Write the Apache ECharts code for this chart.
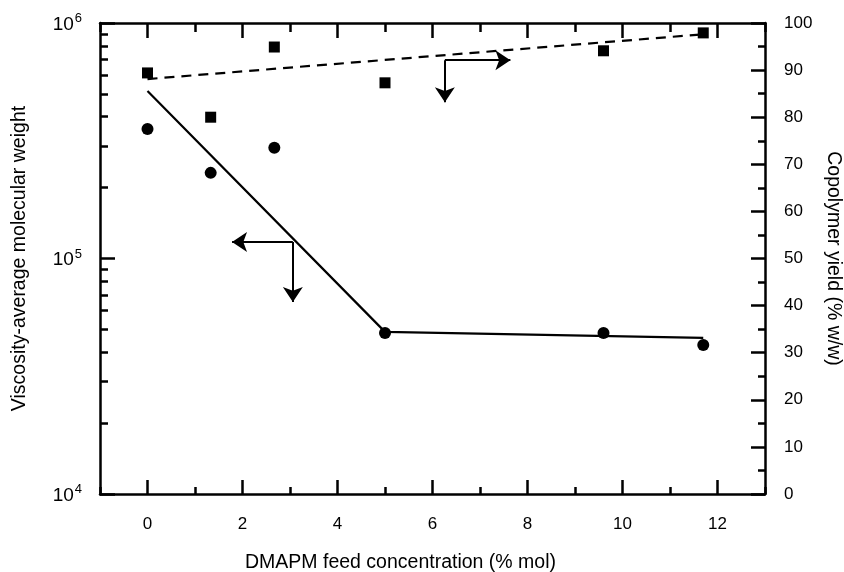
<!DOCTYPE html>
<html>
<head>
<meta charset="utf-8">
<script src="https://cdn.jsdelivr.net/npm/echarts@6/dist/echarts.min.js"></script>
<style>
  html, body { margin: 0; padding: 0; background: #fff; }
  #chart { width: 844px; height: 572px; }
</style>
</head>
<body>
<div id="chart"></div>
<script>
// molecular weight (circles, left log axis)
const mwX = [0, 1.33, 2.67, 5.0, 9.6, 11.7]
const mwY = [355000, 231000, 295000, 48300, 48300, 42900]
// copolymer yield (squares, right axis)
const yieldX = [0, 1.33, 2.67, 5.0, 9.6, 11.7]
const yieldY = [89.4, 80.0, 94.9, 87.3, 94.1, 97.9]
// fitted lines
const mwFit = [[0, 514000], [5.0, 48800], [11.7, 46000]]
const yieldFit = [[0, 88.1], [11.7, 97.6]]
// arrows pointing to the axes
const mwArrows = [
  [[3.06, 117500], [1.78, 117500]],
  [[3.06, 117500], [3.06, 65400]]
]
const yieldArrows = [
  [[6.26, 92.1], [7.64, 92.1]],
  [[6.26, 92.1], [6.26, 83.2]]
]
// ticks
const xMajorTicks = [0, 2, 4, 6, 8, 10, 12]
const xMinorTicks = [-1, 1, 3, 5, 7, 9, 11, 13]
const mwMajorTicks = [10000, 100000, 1000000]
const mwMinorTicks = [20000, 30000, 40000, 50000, 60000, 70000, 80000, 90000,
  200000, 300000, 400000, 500000, 600000, 700000, 800000, 900000]

const chart = echarts.init(document.getElementById('chart'))

const font = 'Liberation Sans, Arial, sans-serif'
const lineStyle = { color: '#000', width: 2.5 }
const tickStyle = { color: '#000', width: 2.5 }

const pair = (xs, ys) => xs.map((x, i) => [x, ys[i]])

const option = {
  animation: false,
  textStyle: { fontFamily: font, color: '#000' },
  grid: { left: 100, right: 79, top: 23, bottom: 78, outerBoundsMode: 'none', containLabel: false },
  xAxis: [
    {
      type: 'value',
      min: -1,
      max: 13,
      position: 'bottom',
      axisLine: { show: true, onZero: false, lineStyle: lineStyle },
      axisTick: { show: true, inside: true, length: 14, customValues: xMajorTicks, lineStyle: tickStyle },
      axisLabel: { customValues: xMajorTicks, margin: 22, fontSize: 17, color: '#000', fontFamily: font },
      splitLine: { show: false },
      name: 'DMAPM feed concentration (% mol)',
      nameLocation: 'middle',
      nameGap: 59,
      nameTextStyle: { fontSize: 19.5, color: '#000', fontFamily: font, padding: [0, 64, 0, 0] }
    },
    {
      type: 'value',
      min: -1,
      max: 13,
      position: 'bottom',
      axisLine: { show: false, onZero: false },
      axisTick: { show: true, inside: true, length: 7, customValues: xMinorTicks, lineStyle: tickStyle },
      axisLabel: { show: false },
      splitLine: { show: false }
    },
    {
      type: 'value',
      min: -1,
      max: 13,
      position: 'top',
      axisLine: { show: true, onZero: false, lineStyle: lineStyle },
      axisTick: { show: true, inside: true, length: 15, customValues: xMajorTicks, lineStyle: tickStyle },
      axisLabel: { show: false },
      splitLine: { show: false }
    },
    {
      type: 'value',
      min: -1,
      max: 13,
      position: 'top',
      axisLine: { show: false, onZero: false },
      axisTick: { show: true, inside: true, length: 9, customValues: xMinorTicks, lineStyle: tickStyle },
      axisLabel: { show: false },
      splitLine: { show: false }
    }
  ],
  yAxis: [
    {
      type: 'log',
      min: 10000,
      max: 1000000,
      position: 'left',
      axisLine: { show: true, onZero: false, lineStyle: lineStyle },
      axisTick: { show: true, inside: true, length: 15, customValues: mwMajorTicks, lineStyle: tickStyle },
      axisLabel: {
        customValues: mwMajorTicks,
        margin: 18,
        formatter: function (value) {
          return '{b|10}{s|' + Math.round(Math.log10(value)) + '}'
        },
        rich: {
          b: { fontSize: 19, fontFamily: font, color: '#000', lineHeight: 22, verticalAlign: 'bottom' },
          s: { fontSize: 13, fontFamily: font, color: '#000', lineHeight: 22, verticalAlign: 'top', padding: [0, 0, 9, 1] }
        }
      },
      splitLine: { show: false },
      name: 'Viscosity-average molecular weight',
      nameLocation: 'middle',
      nameGap: 70,
      nameTextStyle: { fontSize: 19.5, color: '#000', fontFamily: font }
    },
    {
      type: 'value',
      min: 0,
      max: 100,
      interval: 10,
      position: 'right',
      axisLine: { show: true, onZero: false, lineStyle: lineStyle },
      axisTick: { show: true, inside: true, length: 14, lineStyle: tickStyle },
      minorTick: { show: true, splitNumber: 2, length: 7, lineStyle: tickStyle },
      axisLabel: { margin: 19, fontSize: 17, color: '#000', fontFamily: font },
      splitLine: { show: false },
      name: 'Copolymer yield (% w/w)',
      nameLocation: 'middle',
      nameRotate: -90,
      nameGap: 58,
      nameTextStyle: { fontSize: 19.5, color: '#000', fontFamily: font }
    },
    {
      type: 'log',
      min: 10000,
      max: 1000000,
      position: 'left',
      axisLine: { show: false, onZero: false },
      axisTick: { show: true, inside: true, length: 8, customValues: mwMinorTicks, lineStyle: tickStyle },
      axisLabel: { show: false },
      splitLine: { show: false }
    }
  ],
  series: [
    {
      type: 'line',
      data: mwFit,
      xAxisIndex: 0,
      yAxisIndex: 0,
      showSymbol: false,
      lineStyle: { color: '#000', width: 2.2 },
      z: 2
    },
    {
      type: 'line',
      data: yieldFit,
      xAxisIndex: 0,
      yAxisIndex: 1,
      showSymbol: false,
      lineStyle: { color: '#000', width: 2.2, type: [10, 7] },
      z: 2
    },
    {
      type: 'scatter',
      data: pair(mwX, mwY),
      xAxisIndex: 0,
      yAxisIndex: 0,
      symbol: 'circle',
      symbolSize: 12,
      itemStyle: { color: '#000', opacity: 1 },
      z: 3
    },
    {
      type: 'scatter',
      data: pair(yieldX, yieldY),
      xAxisIndex: 0,
      yAxisIndex: 1,
      symbol: 'rect',
      symbolSize: 11,
      itemStyle: { color: '#000', opacity: 1 },
      z: 3
    },
    {
      type: 'lines',
      coordinateSystem: 'cartesian2d',
      xAxisIndex: 0,
      yAxisIndex: 0,
      data: mwArrows.map(c => ({ coords: c })),
      symbol: ['none', 'arrow'],
      symbolSize: 15,
      lineStyle: { color: '#000', width: 2, opacity: 1 },
      z: 4
    },
    {
      type: 'lines',
      coordinateSystem: 'cartesian2d',
      xAxisIndex: 0,
      yAxisIndex: 1,
      data: yieldArrows.map(c => ({ coords: c })),
      symbol: ['none', 'arrow'],
      symbolSize: 15,
      lineStyle: { color: '#000', width: 2, opacity: 1 },
      z: 4
    }
  ]
}

chart.setOption(option)
</script>
</body>
</html>
